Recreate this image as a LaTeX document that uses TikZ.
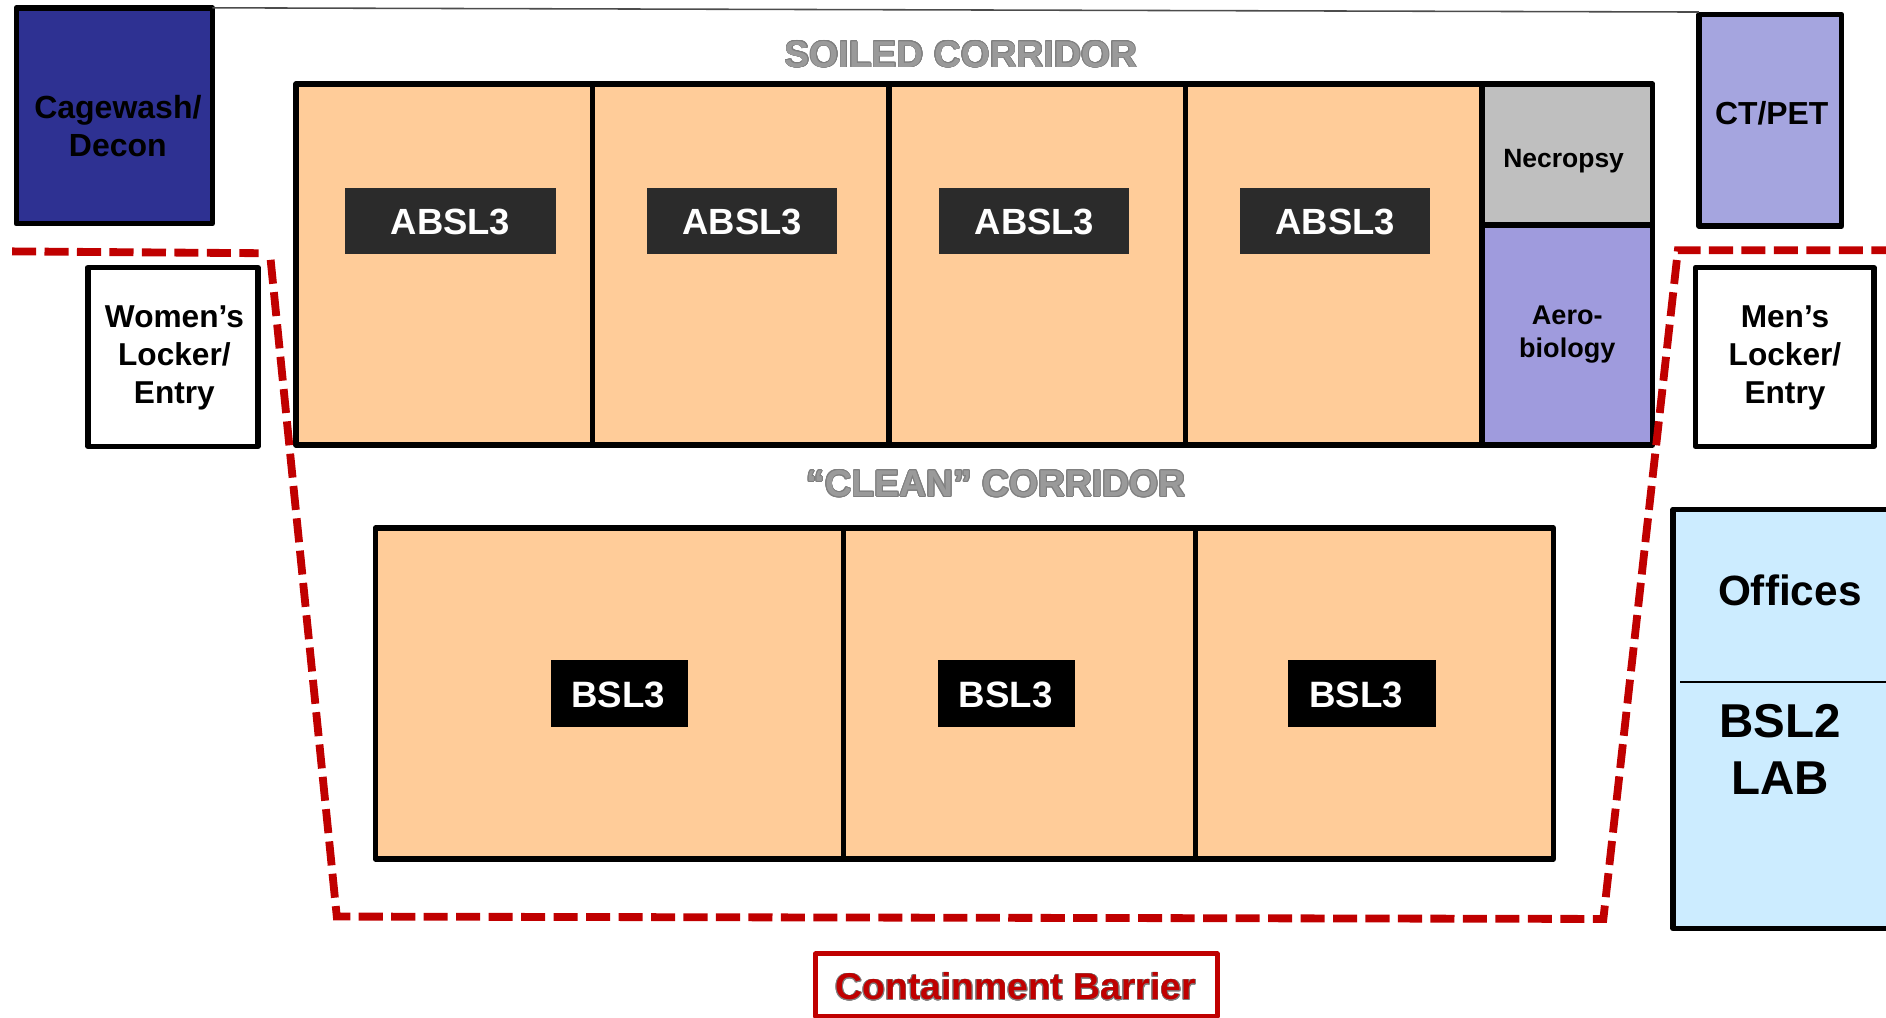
\documentclass[tikz,border=0pt]{standalone}
\usepackage{fontspec}
\setmainfont{Liberation Sans}
\usepackage[copies]{contour}
\contournumber{16}
\definecolor{roomorange}{HTML}{FFCC99}
\definecolor{navyroom}{HTML}{2E3192}
\definecolor{ctroom}{HTML}{A5A5DF}
\definecolor{aeroroom}{HTML}{9F9BDD}
\definecolor{necroom}{HTML}{BFBFBF}
\definecolor{officeroom}{HTML}{CCECFF}
\definecolor{barrier}{HTML}{C00000}
\definecolor{labeldark}{HTML}{2B2B2B}
\definecolor{corrfill}{HTML}{9A9A9A}
\definecolor{corredge}{HTML}{7F7F7F}
\newcommand{\fsz}[1]{\fontsize{#1}{#1}\selectfont\bfseries}
\newcommand{\roombox}[6]{%
  \pgfmathsetlengthmacro{\rw}{#4-#2}\pgfmathsetlengthmacro{\rh}{#5-#3}%
  \node[rectangle,draw,inner sep=0pt,outer sep=0pt,anchor=north west,line join=round,
        minimum width=\rw,minimum height=\rh,#6] (#1) at (#2,#3) {};}
\tikzset{
  wall/.style={draw=black,line width=4.5pt},
  tagtext/.style={inner sep=0pt,outer sep=0pt,align=center,text=black},
  tagwhite/.style={inner sep=0pt,outer sep=0pt,text=white},
  barrierline/.style={draw=barrier,line width=6.5pt,dash pattern=on 20pt off 7pt},
}
\begin{document}
\begin{tikzpicture}[x=1pt,y=-1pt]
\useasboundingbox (0,0) rectangle (1568,846);
\begin{scope}
\clip (0,0) rectangle (1568,846);
\roombox{cage}{13.5}{6.5}{176.5}{186}{wall,fill=navyroom}
\roombox{ct}{1412.5}{12}{1531}{188}{wall,fill=ctroom}
\draw[draw=black!70,line width=1.3pt] (cage.north east) -- ([yshift=2pt]ct.north west);
% soiled block
\roombox{a1}{246}{70}{492.5}{370}{wall,fill=roomorange}
\roombox{a2}{492.5}{70}{739}{370}{wall,fill=roomorange}
\roombox{a3}{739}{70}{985.5}{370}{wall,fill=roomorange}
\roombox{a4}{985.5}{70}{1232}{370}{wall,fill=roomorange}
\roombox{nec}{1232}{70}{1374}{187}{wall,fill=necroom}
\roombox{aero}{1232}{187}{1374}{370}{wall,fill=aeroroom}
% clean block
\roombox{b1}{312}{439}{701.5}{714}{wall,fill=roomorange}
\roombox{b2}{701.5}{439}{994}{714}{wall,fill=roomorange}
\roombox{b3}{994}{439}{1291.5}{714}{wall,fill=roomorange}
% lockers
\roombox{wl}{73}{222.5}{214.5}{371}{wall,fill=white}
\roombox{ml}{1409.5}{222.5}{1558}{371}{wall,fill=white}
% offices
\roombox{off}{1391}{423.5}{1585}{772}{wall,fill=officeroom}
\coordinate (offL) at (1397,567);
\coordinate (offR) at (1568,567);
\draw[line width=2.2pt] (offL) -- (offR);
% tags
\roombox{t1}{287}{156}{462}{211}{draw=none,fill=labeldark}
\roombox{t2}{538}{156}{696}{211}{draw=none,fill=labeldark}
\roombox{t3}{781}{156}{939}{211}{draw=none,fill=labeldark}
\roombox{t4}{1031}{156}{1189}{211}{draw=none,fill=labeldark}
\roombox{u1}{458}{549}{572}{604}{draw=none,fill=black}
\roombox{u2}{780}{549}{894}{604}{draw=none,fill=black}
\roombox{u3}{1071}{549}{1194}{604}{draw=none,fill=black}
\node[tagwhite,font=\fsz{30.3}] (t1t) at ([yshift=-1pt]t1.center) {ABSL3};
\node[tagwhite,font=\fsz{30.3}] (t2t) at ([yshift=-1pt]t2.center) {ABSL3};
\node[tagwhite,font=\fsz{30.3}] (t3t) at ([yshift=-1pt]t3.center) {ABSL3};
\node[tagwhite,font=\fsz{30.3}] (t4t) at ([yshift=-1pt]t4.center) {ABSL3};
\node[tagwhite,font=\fsz{30.5}] (u1t) at ([xshift=-1pt,yshift=-1pt]u1.center) {BSL3};
\node[tagwhite,font=\fsz{30.5}] (u2t) at ([xshift=-1pt,yshift=-1pt]u2.center) {BSL3};
\node[tagwhite,font=\fsz{30.5}] (u3t) at ([xshift=-5pt,yshift=-1pt]u3.center) {BSL3};
% room labels
\node[tagtext,font=\fontsize{26.6}{31.5}\selectfont\bfseries] (cagetxt) at (98,104.5) {Cagewash/\\Decon};
\node[tagtext,font=\fontsize{26.3}{31.8}\selectfont\bfseries] (wltxt) at (145,297.5) {Women’s\\Locker/\\Entry};
\node[tagtext,font=\fontsize{26.3}{31.8}\selectfont\bfseries] (mltxt) at (1484,297.5) {Men’s\\Locker/\\Entry};
\node[tagtext,font=\fsz{22}] (nectxt) at (1300,134) {Necropsy};
\node[tagtext,font=\fontsize{22.5}{27.5}\selectfont\bfseries] (aerotxt) at (1303,278.5) {Aero-\\biology};
\node[tagtext,font=\fsz{26.5}] (cttxt) at (1473,94) {CT/PET};
\node[tagtext,font=\fsz{35.2}] (offtxt) at (1488,491) {Offices};
\node[tagtext,font=\fontsize{39.5}{48}\selectfont\bfseries] (labtxt) at (1480,623) {BSL2\\LAB};
% corridors
\contourlength{0.7pt}
\node[inner sep=0pt,font=\fsz{31},text=corrfill] (soiled) at (799,45.5) {\contour{corredge}{SOILED CORRIDOR}};
\node[inner sep=0pt,font=\fsz{31},text=corrfill] (clean) at (828,402.5) {\contour{corredge}{“CLEAN” CORRIDOR}};
% barrier
\coordinate (p1) at (10,209);
\coordinate (p2) at (215,210.5);
\coordinate (p3) at (225,216);
\coordinate (p4) at (280,762);
\coordinate (p5) at (1333,764);
\coordinate (p6) at (1395,208);
\coordinate (p7) at (1568,208);
\draw[barrierline] (p1) -- (p2);
\draw[barrierline] (p3) -- (p4) -- (p5) -- (p6) -- (p7);
% key
\roombox{key}{678}{793}{1012}{845}{draw=barrier,line width=4pt,fill=white}
\contourlength{0.5pt}
\node[inner sep=0pt,font=\fsz{31},text=barrier] (keytxt) at (844.5,820.5) {\contour{corredge}{Containment Barrier}};
\end{scope}
\end{tikzpicture}
\end{document}
